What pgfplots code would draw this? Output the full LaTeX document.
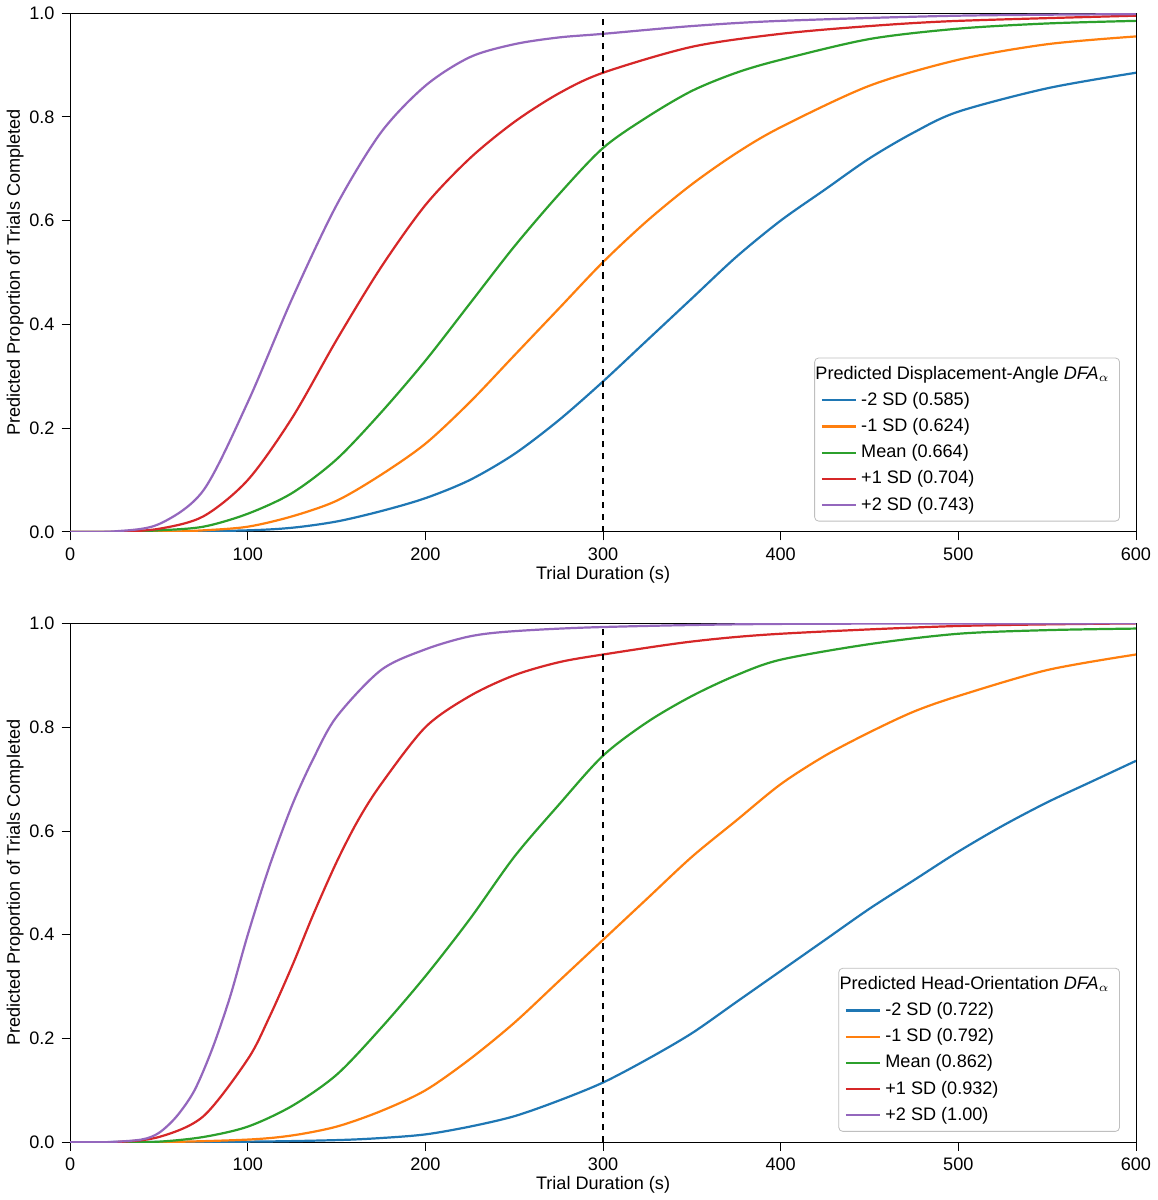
\documentclass[border=0pt]{standalone}
\usepackage{pgfplots}
\pgfplotsset{compat=1.18}
\usepackage{fontspec}
\setmainfont{Liberation Sans}
\definecolor{c1}{HTML}{1F77B4}
\definecolor{c2}{HTML}{FF7F0E}
\definecolor{c3}{HTML}{2CA02C}
\definecolor{c4}{HTML}{D62728}
\definecolor{c5}{HTML}{9467BD}
\pgfplotsset{
  myax/.style={width=530pt,height=258pt,scale only axis,xmin=0,xmax=600,ymin=0,ymax=1,
    xtick={0,100,...,600},ytick={0,0.2,...,1},
    yticklabel style={/pgf/number format/fixed,/pgf/number format/fixed zerofill,/pgf/number format/precision=1},
    /pgf/number format/assume math mode=true,
    tick align=outside,tick pos=left,tick style={black,thin},
    ticklabel style={font=\small},label style={font=\small},
    xlabel={Trial Duration (s)},ylabel={Predicted Proportion of Trials Completed},
    xlabel style={yshift=4pt},ylabel style={yshift=-4pt},
    legend cell align=left,
    legend style={font=\small,draw=gray!50,rounded corners=2pt,at={(0.985,0.02)},anchor=south east,row sep=1pt},
    every axis plot/.append style={line width=1.1pt,smooth,tension=0.5}},
}
\begin{document}
\begin{tikzpicture}
\begin{axis}[myax]
\addlegendimage{empty legend}\addlegendentry{\hspace{-0.8cm}Predicted Displacement-Angle \textit{DFA}$_\alpha$}
\addplot[c1] coordinates {(0,0)(50,0)(100,0.003)(125,0.008)(150,0.02)(175,0.04)(200,0.065)(225,0.1)(250,0.15)(275,0.215)(300,0.29)(325,0.37)(350,0.45)(375,0.53)(400,0.6)(425,0.66)(450,0.72)(475,0.77)(500,0.81)(550,0.855)(600,0.885)};
\addlegendentry{-2 SD (0.585)}
\addplot[c2] coordinates {(0,0)(50,0)(75,0.003)(100,0.01)(125,0.03)(150,0.06)(175,0.11)(200,0.17)(225,0.25)(250,0.34)(275,0.43)(300,0.52)(325,0.6)(350,0.67)(375,0.73)(400,0.78)(450,0.86)(500,0.91)(550,0.94)(600,0.955)};
\addlegendentry{-1 SD (0.624)}
\addplot[c3] coordinates {(0,0)(25,0)(50,0.003)(75,0.01)(100,0.035)(125,0.075)(150,0.14)(175,0.23)(200,0.33)(225,0.44)(250,0.55)(275,0.65)(300,0.74)(325,0.8)(350,0.85)(375,0.885)(400,0.91)(450,0.95)(500,0.97)(550,0.98)(600,0.985)};
\addlegendentry{Mean (0.664)}
\addplot[c4] coordinates {(0,0)(25,0)(50,0.006)(75,0.03)(100,0.1)(125,0.22)(150,0.37)(175,0.51)(200,0.63)(225,0.72)(250,0.79)(275,0.845)(300,0.885)(350,0.935)(400,0.96)(450,0.975)(500,0.985)(600,0.995)};
\addlegendentry{+1 SD (0.704)}
\addplot[c5] coordinates {(0,0)(25,0.001)(50,0.015)(75,0.08)(100,0.25)(125,0.45)(150,0.63)(175,0.77)(200,0.86)(225,0.915)(250,0.94)(275,0.953)(300,0.96)(350,0.975)(400,0.985)(500,0.995)(600,0.998)};
\addlegendentry{+2 SD (0.743)}
\addplot[black,dashed,line width=1.2pt,sharp plot,forget plot] coordinates {(300,0)(300,1)};
\end{axis}
\begin{axis}[myax,yshift=-303.5pt]
\addlegendimage{empty legend}\addlegendentry{\hspace{-0.8cm}Predicted Head-Orientation \textit{DFA}$_\alpha$}
\addplot[c1] coordinates {(0,0)(100,0.001)(150,0.004)(175,0.008)(200,0.015)(225,0.03)(250,0.05)(275,0.08)(300,0.115)(325,0.16)(350,0.21)(375,0.27)(400,0.33)(425,0.39)(450,0.45)(475,0.505)(500,0.56)(525,0.61)(550,0.655)(575,0.695)(600,0.735)};
\addlegendentry{-2 SD (0.722)}
\addplot[c2] coordinates {(0,0)(50,0)(100,0.005)(125,0.013)(150,0.03)(175,0.06)(200,0.1)(225,0.16)(250,0.23)(275,0.31)(300,0.39)(325,0.47)(350,0.55)(375,0.62)(400,0.69)(425,0.745)(450,0.79)(475,0.83)(500,0.86)(550,0.91)(600,0.94)};
\addlegendentry{-1 SD (0.792)}
\addplot[c3] coordinates {(0,0)(25,0)(50,0.001)(75,0.01)(100,0.03)(125,0.07)(150,0.13)(175,0.22)(200,0.32)(225,0.43)(250,0.55)(275,0.65)(300,0.745)(325,0.81)(350,0.86)(375,0.9)(400,0.93)(450,0.96)(500,0.98)(550,0.987)(600,0.99)};
\addlegendentry{Mean (0.862)}
\addplot[c4] coordinates {(0,0)(25,0)(50,0.01)(75,0.05)(100,0.16)(112,0.24)(125,0.34)(137,0.44)(150,0.54)(162,0.62)(175,0.69)(200,0.8)(225,0.86)(250,0.9)(275,0.925)(300,0.94)(350,0.965)(400,0.98)(500,0.995)(600,1)};
\addlegendentry{+1 SD (0.932)}
\addplot[c5] coordinates {(0,0)(20,0)(40,0.005)(50,0.018)(60,0.05)(70,0.1)(80,0.18)(90,0.28)(100,0.4)(112,0.53)(125,0.65)(137,0.74)(150,0.82)(175,0.91)(200,0.95)(225,0.975)(250,0.985)(300,0.993)(400,0.999)(600,1)};
\addlegendentry{+2 SD (1.00)}
\addplot[black,dashed,line width=1.2pt,sharp plot,forget plot] coordinates {(300,0)(300,1)};
\end{axis}
\end{tikzpicture}
\end{document}
